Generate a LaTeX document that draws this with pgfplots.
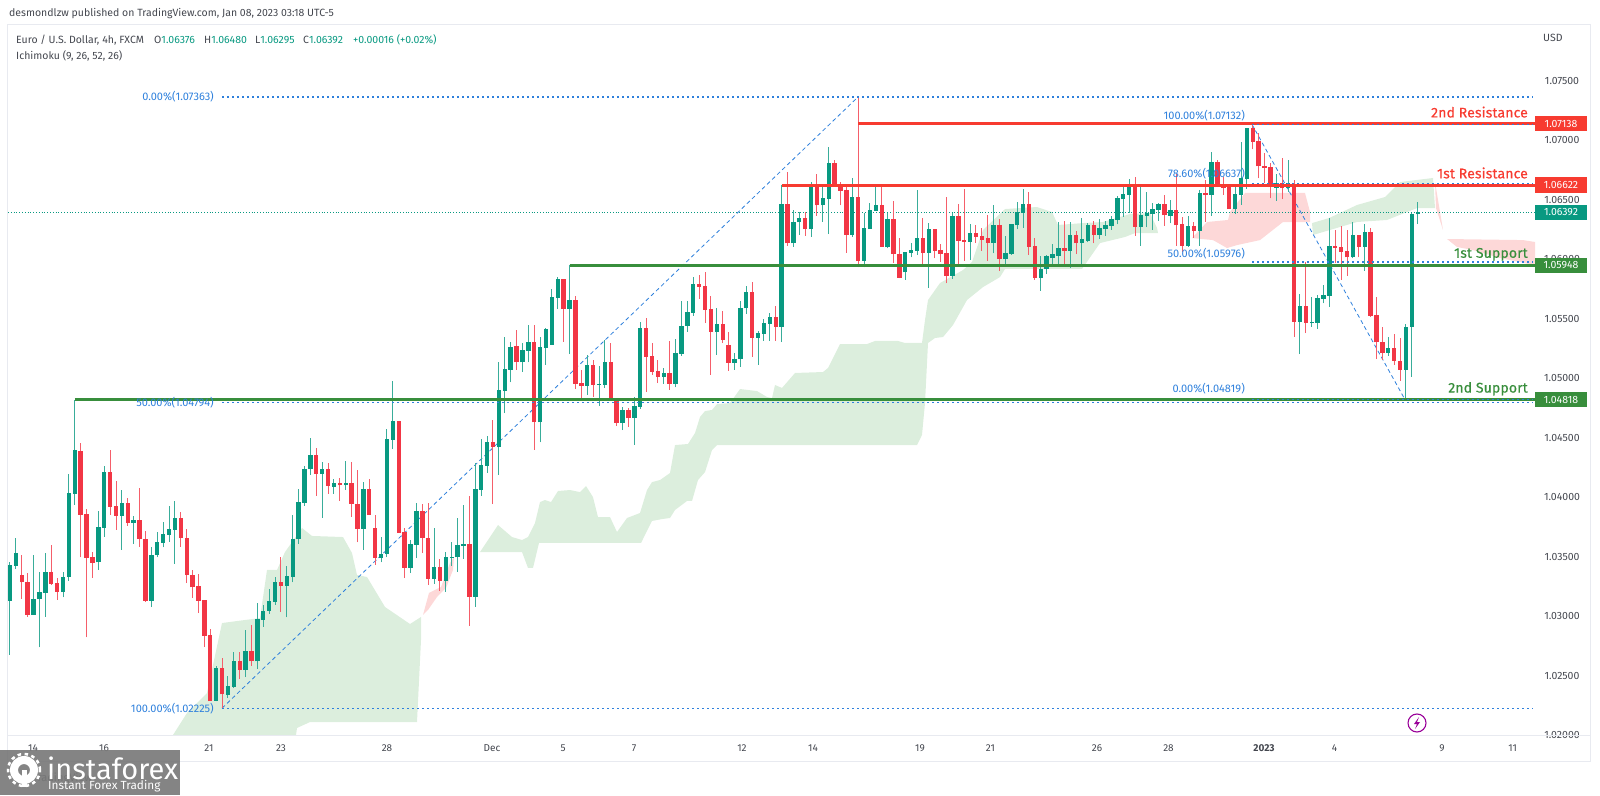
\documentclass[border=0pt]{standalone}
\usepackage{fontspec}
\setmainfont{Fira Sans}
\usepackage{pgfplots}
\usepackage{pgfplotstable}
\pgfplotsset{compat=1.18}

\definecolor{upc}{HTML}{089981}
\definecolor{downc}{HTML}{F23645}
\definecolor{cloudg}{HTML}{DCEEDD}
\definecolor{cloudr}{HTML}{FDD8D8}
\definecolor{lvlg}{HTML}{388E3C}
\definecolor{lvlr}{HTML}{F73B30}
\definecolor{fib}{HTML}{2E80DC}
\definecolor{txt}{HTML}{44474F}
\definecolor{frame}{HTML}{E8EAF0}

% green candles, bar number then open high low close
\pgfplotstableread{
i O H L C
0 1.03130 1.03458 1.02674 1.03430
1 1.03424 1.03654 1.03396 1.03531
4 1.03010 1.03514 1.03010 1.03142
5 1.03139 1.03374 1.02736 1.03198
6 1.03192 1.03528 1.02996 1.03366
9 1.03200 1.03368 1.03156 1.03332
10 1.03326 1.04194 1.03298 1.04032
11 1.04026 1.04818 1.03934 1.04393
15 1.03450 1.03884 1.03388 1.03746
16 1.03744 1.04264 1.03668 1.04208
19 1.03844 1.04060 1.03556 1.03948
21 1.03783 1.03842 1.03606 1.03811
24 1.03130 1.03578 1.03074 1.03514
25 1.03511 1.03707 1.03492 1.03620
26 1.03615 1.03794 1.03578 1.03690
27 1.03682 1.03926 1.03623 1.03732
28 1.03724 1.03970 1.03438 1.03825
35 1.02288 1.02582 1.02282 1.02565
37 1.02338 1.02500 1.02310 1.02414
38 1.02405 1.02696 1.02394 1.02626
40 1.02548 1.02884 1.02486 1.02708
42 1.02618 1.03108 1.02556 1.02976
43 1.02968 1.03094 1.02912 1.03046
44 1.03044 1.03226 1.03018 1.03128
45 1.03119 1.03326 1.03094 1.03287
47 1.03254 1.03422 1.02988 1.03335
48 1.03326 1.03850 1.03282 1.03651
49 1.03646 1.04068 1.03606 1.03962
50 1.03954 1.04262 1.03928 1.04239
51 1.04234 1.04497 1.04186 1.04354
53 1.04194 1.04292 1.03828 1.04239
55 1.04088 1.04150 1.04026 1.04119
57 1.04099 1.04304 1.04060 1.04119
60 1.03732 1.04124 1.03556 1.04066
63 1.03486 1.03662 1.03450 1.03522
64 1.03520 1.04572 1.03494 1.04488
65 1.04480 1.04973 1.04402 1.04640
68 1.03405 1.03640 1.03360 1.03606
69 1.03601 1.03954 1.03486 1.03884
72 1.03312 1.03738 1.03270 1.03413
74 1.03296 1.03539 1.03206 1.03494
75 1.03486 1.03623 1.03422 1.03500
76 1.03494 1.03828 1.03374 1.03595
77 1.03592 1.03931 1.03480 1.03606
79 1.03164 1.04290 1.03080 1.04066
80 1.04060 1.04488 1.04010 1.04270
81 1.04264 1.04516 1.04206 1.04463
83 1.04418 1.05138 1.04186 1.04900
84 1.04895 1.05343 1.04705 1.05075
85 1.05069 1.05307 1.04965 1.05265
87 1.05133 1.05293 1.05055 1.05237
88 1.05231 1.05450 1.05133 1.05307
90 1.04627 1.05343 1.04459 1.05259
91 1.05257 1.05425 1.05111 1.05411
92 1.05279 1.05747 1.05279 1.05679
93 1.05674 1.05850 1.05579 1.05831
95 1.05584 1.05948 1.05201 1.05657
98 1.04937 1.05195 1.04859 1.05108
100 1.04943 1.05103 1.04769 1.04949
101 1.04943 1.05321 1.04915 1.05139
104 1.04624 1.04755 1.04562 1.04733
106 1.04666 1.04845 1.04439 1.04767
107 1.04761 1.05469 1.04739 1.05425
111 1.05013 1.05083 1.04951 1.05041
113 1.04951 1.05327 1.04923 1.05209
114 1.05203 1.05649 1.05187 1.05441
115 1.05439 1.05649 1.05391 1.05553
116 1.05548 1.05853 1.05523 1.05791
120 1.05391 1.05587 1.05195 1.05455
123 1.05128 1.05209 1.05069 1.05164
124 1.05159 1.05649 1.05097 1.05593
125 1.05587 1.05775 1.05539 1.05721
127 1.05341 1.05397 1.05111 1.05380
128 1.05374 1.05495 1.05315 1.05464
129 1.05458 1.05545 1.05315 1.05511
131 1.05430 1.06622 1.05303 1.06461
133 1.06133 1.06413 1.06105 1.06315
134 1.06309 1.06393 1.06203 1.06346
136 1.06253 1.06651 1.06189 1.06623
138 1.06452 1.06623 1.06315 1.06514
139 1.06508 1.06945 1.06211 1.06811
143 1.06203 1.06679 1.06189 1.06522
145 1.05985 1.06385 1.05931 1.06259
146 1.06253 1.06469 1.06253 1.06413
147 1.06407 1.06623 1.06407 1.06452
149 1.06099 1.06391 1.06091 1.06340
152 1.05889 1.06063 1.05825 1.06060
153 1.06055 1.06133 1.06015 1.06077
154 1.06071 1.06578 1.06035 1.06181
156 1.06055 1.06307 1.05761 1.06253
160 1.05859 1.06385 1.05833 1.06363
163 1.06144 1.06293 1.05993 1.06220
167 1.06136 1.06452 1.06049 1.06287
169 1.06001 1.06195 1.05951 1.06052
170 1.06046 1.06298 1.06035 1.06295
171 1.06284 1.06483 1.06251 1.06396
172 1.06388 1.06587 1.06265 1.06461
175 1.05845 1.06029 1.05735 1.05917
176 1.05915 1.06032 1.05875 1.06024
177 1.06013 1.06124 1.05951 1.06041
178 1.06029 1.06309 1.05957 1.06094
180 1.06069 1.06315 1.05929 1.06206
182 1.06139 1.06343 1.05957 1.06167
183 1.06155 1.06307 1.06141 1.06290
185 1.06203 1.06335 1.06169 1.06262
186 1.06253 1.06323 1.06195 1.06287
187 1.06279 1.06363 1.06245 1.06340
188 1.06332 1.06531 1.06293 1.06514
189 1.06505 1.06603 1.06357 1.06547
190 1.06542 1.06673 1.06385 1.06609
192 1.06270 1.06603 1.06113 1.06371
193 1.06365 1.06567 1.06267 1.06388
194 1.06379 1.06469 1.06245 1.06419
195 1.06413 1.06469 1.06321 1.06461
197 1.06365 1.06497 1.06301 1.06413
200 1.06111 1.06365 1.06105 1.06279
202 1.06237 1.06581 1.06111 1.06553
204 1.06542 1.06903 1.06365 1.06816
208 1.06421 1.06629 1.06379 1.06545
209 1.06539 1.06987 1.06455 1.06682
210 1.06676 1.07105 1.06592 1.07105
215 1.06601 1.06715 1.06491 1.06640
217 1.06597 1.06833 1.06564 1.06639
219 1.05475 1.05705 1.05201 1.05607
221 1.05461 1.05685 1.05433 1.05469
222 1.05467 1.05699 1.05413 1.05674
223 1.05668 1.05783 1.05629 1.05696
224 1.05693 1.06343 1.05601 1.06111
228 1.06015 1.06315 1.06007 1.06203
230 1.06105 1.06293 1.05903 1.06228
234 1.05215 1.05349 1.05189 1.05257
237 1.05069 1.05455 1.04819 1.05433
238 1.05430 1.06385 1.05013 1.06376
239 1.06376 1.06480 1.06295 1.06392
}\upbars

% red candles
\pgfplotstableread{
i O H L C
2 1.03349 1.03514 1.03147 1.03282
3 1.03287 1.03360 1.02996 1.03010
7 1.03366 1.03598 1.03262 1.03270
8 1.03276 1.03318 1.03136 1.03203
12 1.04390 1.04452 1.03494 1.03853
13 1.03858 1.03898 1.02820 1.03486
14 1.03494 1.03542 1.03321 1.03447
17 1.04208 1.04396 1.03850 1.03920
18 1.03926 1.04136 1.03724 1.03844
20 1.03948 1.03990 1.03758 1.03783
22 1.03811 1.04077 1.03584 1.03646
23 1.03651 1.03713 1.03122 1.03130
29 1.03825 1.03872 1.03584 1.03654
30 1.03660 1.03732 1.03276 1.03346
31 1.03349 1.03388 1.03153 1.03240
32 1.03254 1.03352 1.03024 1.03130
33 1.03136 1.03136 1.02738 1.02836
34 1.02839 1.02890 1.02285 1.02285
36 1.02565 1.02646 1.02225 1.02341
39 1.02626 1.02696 1.02472 1.02548
41 1.02708 1.02926 1.02582 1.02618
46 1.03287 1.03500 1.03038 1.03254
52 1.04351 1.04410 1.04010 1.04194
54 1.04239 1.04284 1.04026 1.04091
56 1.04119 1.04158 1.03970 1.04099
58 1.04119 1.04295 1.03836 1.03942
59 1.03945 1.04228 1.03620 1.03732
61 1.04066 1.04152 1.03850 1.03850
62 1.03738 1.03850 1.03430 1.03486
66 1.04640 1.04640 1.03702 1.03702
67 1.03707 1.03738 1.03318 1.03405
70 1.03884 1.03942 1.03528 1.03654
71 1.03660 1.03948 1.03262 1.03312
73 1.03413 1.03480 1.03214 1.03296
78 1.03606 1.04010 1.02920 1.03164
82 1.04463 1.04648 1.03940 1.04418
86 1.05268 1.05405 1.05069 1.05133
89 1.05307 1.05450 1.04397 1.04627
94 1.05831 1.05833 1.05307 1.05584
96 1.05657 1.05691 1.04912 1.04951
97 1.04957 1.05069 1.04817 1.04935
99 1.05108 1.05153 1.04839 1.04946
102 1.05139 1.05293 1.04811 1.04817
103 1.04825 1.04831 1.04601 1.04624
105 1.04730 1.04747 1.04593 1.04663
108 1.05425 1.05503 1.04887 1.05181
109 1.05187 1.05293 1.05027 1.05052
110 1.05061 1.05153 1.04957 1.05013
112 1.05041 1.05315 1.04901 1.04951
117 1.05791 1.05867 1.05665 1.05766
118 1.05775 1.05889 1.05461 1.05573
119 1.05579 1.05691 1.05027 1.05391
121 1.05455 1.05562 1.05293 1.05324
122 1.05282 1.05388 1.05061 1.05128
126 1.05721 1.05808 1.05181 1.05341
130 1.05511 1.05607 1.05315 1.05430
132 1.06461 1.06729 1.06111 1.06133
135 1.06346 1.06393 1.06195 1.06253
137 1.06617 1.06715 1.06363 1.06452
140 1.06811 1.06833 1.06609 1.06609
141 1.06609 1.06651 1.06452 1.06573
142 1.06581 1.06609 1.06055 1.06203
144 1.06522 1.07363 1.05931 1.05985
148 1.06452 1.06615 1.06105 1.06105
150 1.06340 1.06486 1.05971 1.06043
151 1.06043 1.06175 1.05839 1.05845
155 1.06181 1.06349 1.05951 1.06055
157 1.06253 1.06253 1.06007 1.06071
158 1.06074 1.06125 1.05979 1.06046
159 1.06052 1.06519 1.05797 1.05859
161 1.06363 1.06461 1.05945 1.06153
162 1.06158 1.06587 1.05985 1.06144
164 1.06220 1.06284 1.06139 1.06189
165 1.06195 1.06259 1.06071 1.06164
166 1.06175 1.06371 1.05987 1.06136
168 1.06284 1.06335 1.05903 1.06001
173 1.06461 1.06561 1.06035 1.06102
174 1.06108 1.06181 1.05825 1.05845
179 1.06094 1.06323 1.05951 1.06069
181 1.06206 1.06239 1.06041 1.06133
184 1.06284 1.06323 1.06133 1.06206
191 1.06615 1.06687 1.06197 1.06270
196 1.06461 1.06539 1.06279 1.06368
198 1.06413 1.06715 1.06113 1.06284
199 1.06293 1.06357 1.06063 1.06111
201 1.06279 1.06315 1.06181 1.06237
203 1.06553 1.06665 1.06315 1.06542
205 1.06816 1.06833 1.06603 1.06603
206 1.06609 1.06693 1.06539 1.06601
207 1.06620 1.06631 1.06421 1.06421
211 1.07105 1.07132 1.06923 1.06987
212 1.06990 1.07057 1.06679 1.06780
213 1.06783 1.06889 1.06643 1.06769
214 1.06777 1.06805 1.06511 1.06603
216 1.06639 1.06850 1.06505 1.06597
218 1.06623 1.06665 1.05349 1.05475
220 1.05607 1.05979 1.05377 1.05461
225 1.06111 1.06245 1.05965 1.06097
226 1.06099 1.06281 1.05825 1.06060
227 1.06066 1.06245 1.05859 1.06015
229 1.06203 1.06203 1.06015 1.06105
231 1.06228 1.06259 1.05517 1.05523
232 1.05531 1.05679 1.05159 1.05301
233 1.05304 1.05433 1.05153 1.05215
235 1.05257 1.05369 1.05111 1.05145
236 1.05145 1.05335 1.04977 1.05069
}\downbars

\begin{document}
\begin{tikzpicture}
% one unit of x is one pixel of the chart, 1pt is 1px of the page
\useasboundingbox (-8pt,-60pt) rectangle (1592pt,735pt);
\begin{axis}[
    at={(0pt,0pt)}, anchor=south west,
    scale only axis,
    width=1527pt, height=710pt,
    xmin=8, xmax=1535,
    ymin=1.0200, ymax=1.07968,
    clip=false,
    axis line style={draw=none},
    major tick length=0pt,
    xtick={33,104,209,281,387,492,563,634,742,813,920,990.5,1097,1168.5,1264,1334.6,1442,1512.7},
    xticklabels={14,16,21,23,28,Dec,5,7,12,14,19,21,26,28,\textbf{2023},4,9,11},
    xticklabel style={anchor=center, yshift=-13pt, text=txt, font=\fontsize{10}{12}\selectfont},
    ytick={1.02,1.025,1.03,1.035,1.04,1.045,1.05,1.055,1.06,1.065,1.07,1.075},
    yticklabels={1.02000,1.02500,1.03000,1.03500,1.04000,1.04500,1.05000,1.05500,1.06000,1.06500,1.07000,1.07500},
    yticklabel pos=right,
    yticklabel style={anchor=center, xshift=27pt, text=txt, font=\fontsize{10.5}{12}\selectfont},
]

% Ichimoku clouds
\addplot[fill=cloudg, draw=none, forget plot] coordinates {
    (173,1.02000) (187,1.02185) (207,1.02353) (222,1.02941) (237,1.02958) (260,1.02983)
    (267,1.03387) (277,1.03387) (285,1.03538) (302,1.03740) (312,1.03673) (343,1.03664)
    (352,1.03530) (357,1.03345) (367,1.03328) (385,1.03076) (410,1.02933) (421,1.02992)
    (421,1.02798) (417,1.02109) (310,1.02109) (297,1.02059) (296,1.02000)} -- cycle;
\addplot[fill=cloudr, draw=none, forget plot] coordinates {
    (423,1.03009) (429,1.03194) (441,1.03244) (450,1.03446) (454,1.03496)
    (453,1.03387) (446,1.03236) (437,1.03160) (428,1.03051)} -- cycle;
\addplot[fill=cloudg, draw=none, forget plot] coordinates {
    (480,1.03538) (498,1.03765) (512,1.03664) (522,1.03639) (528,1.03664) (535,1.03782)
    (540,1.03958) (545,1.03975) (551,1.03958) (558,1.04051) (570,1.04059) (580,1.04042)
    (586,1.04093) (593,1.04000) (598,1.03832) (610,1.03832) (617,1.03706) (627,1.03824)
    (640,1.03866) (647,1.04059) (652,1.04126) (660,1.04143) (670,1.04202) (675,1.04437)
    (688,1.04446) (695,1.04538) (700,1.04673) (705,1.04723) (712,1.04732) (717,1.04782)
    (730,1.04790) (740,1.04908) (757,1.04891) (767,1.04841) (772,1.04832) (775,1.04942)
    (782,1.04917) (795,1.05043) (823,1.05051) (828,1.05085) (840,1.05286) (867,1.05286)
    (875,1.05312) (898,1.05312) (905,1.05295) (922,1.05295) (925,1.05488) (928,1.05656)
    (940,1.05799) (963,1.05908) (972,1.05976) (983,1.06245) (1005,1.06421) (1037,1.06438)
    (1052,1.06396) (1058,1.06287) (1083,1.06303) (1103,1.06312) (1130,1.06379) (1150,1.06387)
    (1157,1.06261) (1158,1.06219) (1135,1.06219) (1125,1.06186) (1100,1.06135) (1082,1.05917)
    (1005,1.05917) (1000,1.05849) (983,1.05765) (967,1.05656) (953,1.05446) (943,1.05345)
    (935,1.05337) (928,1.05295) (925,1.04790) (922,1.04522) (917,1.04437) (717,1.04437)
    (712,1.04395) (705,1.04210) (698,1.04143) (692,1.03967) (687,1.03967) (675,1.03891)
    (670,1.03824) (662,1.03815) (652,1.03799) (641,1.03614) (539,1.03614) (533,1.03404)
    (528,1.03404) (522,1.03538)} -- cycle;
\addplot[fill=cloudr, draw=none, forget plot] coordinates {
    (1192,1.06177) (1207,1.06312) (1228,1.06329) (1230,1.06396) (1245,1.06556) (1305,1.06556)
    (1310,1.06396) (1310,1.06312) (1283,1.06312) (1260,1.06160) (1237,1.06118) (1227,1.06093)
    (1213,1.06160)} -- cycle;
\addplot[fill=cloudg, draw=none, forget plot] coordinates {
    (1312,1.06303) (1329,1.06345) (1357,1.06455) (1385,1.06522) (1400,1.06648) (1433,1.06682)
    (1435,1.06429) (1417,1.06429) (1387,1.06329) (1357,1.06312) (1330,1.06245) (1313,1.06203)} -- cycle;
\addplot[fill=cloudr, draw=none, forget plot] coordinates {
    (1435,1.06648) (1443,1.06245) (1436,1.06429)} -- cycle;
\addplot[fill=cloudr, draw=none, forget plot] coordinates {
    (1447,1.06169) (1523,1.06160) (1535,1.06144) (1535,1.05942) (1525,1.05967)
    (1500,1.06009) (1473,1.06076) (1457,1.06102)} -- cycle;

% current price line
\addplot[upc, line width=0.8pt, dotted, forget plot] coordinates {(8,1.06392) (1535,1.06392)};

% fib trend lines
\addplot[fib, line width=0.8pt, dash pattern=on 4pt off 3pt, forget plot] coordinates {(222,1.02225) (858,1.07363)};
\addplot[fib, line width=0.8pt, dash pattern=on 4pt off 3pt, forget plot] coordinates {(1252,1.07132) (1405,1.04819)};

% candles: wick first, body on top
\addplot[draw=none, forget plot, error bars/.cd, y dir=plus, y explicit, error mark=none,
    error bar style={draw=upc!80!white, line width=1pt}]
    table[x expr=10+5.89*\thisrow{i}, y=L, y error expr=\thisrow{H}-\thisrow{L}] {\upbars};
\addplot[draw=none, forget plot, error bars/.cd, y dir=plus, y explicit, error mark=none,
    error bar style={draw=downc!80!white, line width=1pt}]
    table[x expr=10+5.89*\thisrow{i}, y=L, y error expr=\thisrow{H}-\thisrow{L}] {\downbars};
\addplot[draw=none, forget plot, error bars/.cd, y dir=plus, y explicit, error mark=none,
    error bar style={draw=upc, line width=4.4pt}]
    table[x expr=10+5.89*\thisrow{i}, y=O, y error expr=\thisrow{C}-\thisrow{O}] {\upbars};
\addplot[draw=none, forget plot, error bars/.cd, y dir=plus, y explicit, error mark=none,
    error bar style={draw=downc, line width=4.4pt}]
    table[x expr=10+5.89*\thisrow{i}, y=C, y error expr=\thisrow{O}-\thisrow{C}] {\downbars};

% support and resistance
\addplot[lvlr, line width=3.2pt, forget plot] coordinates {(858,1.07138) (1535,1.07138)};
\addplot[lvlr, line width=3.2pt, forget plot] coordinates {(781.6,1.06622) (1535,1.06622)};
\addplot[lvlg, line width=3.2pt, forget plot] coordinates {(569.6,1.05948) (1535,1.05948)};
\addplot[lvlg, line width=3.2pt, forget plot] coordinates {(74.8,1.04818) (1535,1.04818)};

% fib levels, dots sit over the level lines
\addplot[fib, line width=1.3pt, dash pattern=on 1.6pt off 3.4pt, forget plot] coordinates {(222,1.07363) (1533,1.07363)};
\addplot[fib, line width=1.3pt, dash pattern=on 1.6pt off 3.4pt, forget plot] coordinates {(222,1.04794) (1533,1.04794)};
\addplot[fib, line width=1.3pt, dash pattern=on 1.6pt off 3.4pt, forget plot] coordinates {(222,1.02225) (1533,1.02225)};
\addplot[fib, line width=1.3pt, dash pattern=on 1.6pt off 3.4pt, forget plot] coordinates {(1252,1.07132) (1533,1.07132)};
\addplot[fib, line width=1.3pt, dash pattern=on 1.6pt off 3.4pt, forget plot] coordinates {(1252,1.06637) (1533,1.06637)};
\addplot[fib, line width=1.3pt, dash pattern=on 1.6pt off 3.4pt, forget plot] coordinates {(1252,1.05976) (1533,1.05976)};
\addplot[fib, line width=1.3pt, dash pattern=on 1.6pt off 3.4pt, forget plot] coordinates {(1252,1.04819) (1533,1.04819)};

% fib labels
\begin{scope}[every node/.style={text=fib, font=\fontsize{11}{13}\selectfont, anchor=east, inner sep=0pt}]
\node at (axis cs:214,1.07363) {0.00\%(1.07363)};
\node at (axis cs:214,1.04794) {50.00\%(1.04794)};
\node at (axis cs:214,1.02225) {100.00\%(1.02225)};
\node at (axis cs:1245,1.07210) {100.00\%(1.07132)};
\node at (axis cs:1245,1.06715) {78.60\%(1.06637)};
\node at (axis cs:1245,1.06050) {50.00\%(1.05976)};
\node at (axis cs:1245,1.04910) {0.00\%(1.04819)};
\end{scope}

% level names
\begin{scope}[every node/.style={font=\fontsize{14}{16}\selectfont\addfontfeature{LetterSpace=1,FakeBold=0.4}, anchor=east, inner sep=0pt}]
\node[text=lvlr] at (axis cs:1528,1.07236) {2nd Resistance};
\node[text=lvlr] at (axis cs:1528,1.06724) {1st Resistance};
\node[text=lvlg] at (axis cs:1528,1.06040) {1st Support};
\node[text=lvlg] at (axis cs:1528,1.04910) {2nd Support};
\end{scope}

% price boxes on the scale
\begin{scope}[every node/.style={text=white, font=\fontsize{10.5}{12}\selectfont, minimum width=52pt, minimum height=15.5pt, inner sep=0pt, anchor=center}]
\node[fill=lvlr] at (axis cs:1561,1.07138) {1.07138};
\node[fill=lvlr] at (axis cs:1561,1.06622) {1.06622};
\node[fill=upc] at (axis cs:1561,1.06392) {1.06392};
\node[fill=lvlg] at (axis cs:1561,1.05948) {1.05948};
\node[fill=lvlg] at (axis cs:1561,1.04818) {1.04818};
\end{scope}
\end{axis}

% page furniture in page pixels, y running down
\begin{scope}[x=1pt, y=-1pt, shift={(-8pt,735pt)}]
\draw[frame, line width=1pt] (8,25) -- (1590,25) -- (1590,761) -- (8,761) -- cycle;
\draw[frame, line width=1pt] (8,735) -- (1590,735);

\begin{scope}[every node/.style={anchor=west, inner sep=0pt, font=\fontsize{10.5}{12}\selectfont, text=txt}]
\node at (9,14) {desmondlzw published on TradingView.com, Jan 08, 2023 03:18 UTC-5};
\node at (16,40) {Euro / U.S. Dollar, 4h, FXCM};
\node at (154,40) {O\textcolor{upc}{1.06376}};
\node at (204,40) {H\textcolor{upc}{1.06480}};
\node at (255,40) {L\textcolor{upc}{1.06295}};
\node at (303,40) {C\textcolor{upc}{1.06392}};
\node[text=upc] at (353,40) {+0.00016 (+0.02\%)};
\node at (16,56) {Ichimoku (9, 26, 52, 26)};
\node at (1543,38) {USD};
\end{scope}

% replay bolt
\draw[draw=violet!80!magenta, line width=1.1pt] (1417,723) circle (9pt);
\fill[violet!80!magenta] (1419,717) -- (1414,724) -- (1417,724) -- (1415,729) -- (1420,722) -- (1417,722) -- cycle;

% watermark
\node[anchor=west, inner sep=0pt, font=\fontsize{11}{13}\selectfont, text=txt] at (32,778) {TradingView};
\fill[gray!95!black, opacity=0.92] (0,750) rectangle (180,795);
\fill[white, even odd rule] (24,770) circle (14pt) (24,770) circle (6pt);
\draw[white, line width=2.5pt, dash pattern=on 3.5pt off 3.5pt] (24,770) circle (16pt);
\fill[white] (21.5,770) rectangle (26.5,787);
\node[anchor=west, inner sep=0pt, text=white, font=\fontsize{29}{31}\selectfont] at (47,768) {instaforex};
\node[anchor=west, inner sep=0pt, text=white, font=\fontsize{11.8}{13}\selectfont] at (48,786) {Instant Forex Trading};
\end{scope}
\end{tikzpicture}
\end{document}
